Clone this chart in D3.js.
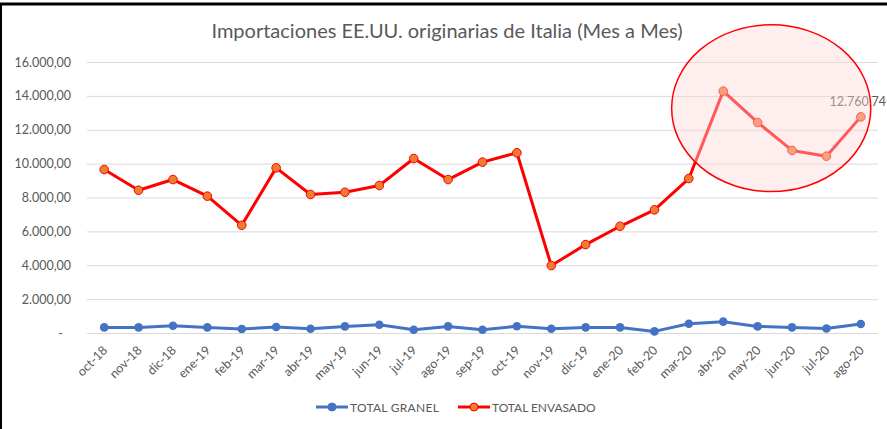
<!DOCTYPE html>
<html>
<head>
<meta charset="utf-8">
<title>Importaciones EE.UU. originarias de Italia</title>
<script src="https://d3js.org/d3.v7.min.js"></script>
<style>
  body { margin: 0; background: #fff; }
  text { font-family: Lato, "Open Sans", sans-serif; fill: #595959; }
</style>
</head>
<body>
<div id="chart"></div>
<script>
// months on the x axis
var months = ["oct-18","nov-18","dic-18","ene-19","feb-19","mar-19","abr-19","may-19","jun-19",
  "jul-19","ago-19","sep-19","oct-19","nov-19","dic-19","ene-20","feb-20","mar-20","abr-20",
  "may-20","jun-20","jul-20","ago-20"];

// TOTAL GRANEL
var granel = [330, 330, 430, 330, 240, 355, 255, 390, 490, 195, 390, 195, 400, 255,
  330, 330, 95, 550, 670, 390, 330, 270, 530];

// TOTAL ENVASADO
var envasado = [9650, 8430, 9060, 8080, 6360, 9750, 8180, 8310, 8710, 10300, 9060, 10090,
  10640, 3980, 5220, 6300, 7270, 9120, 14280, 12430, 10780, 10440, 12760.74];

var yTicks = [0, 2000, 4000, 6000, 8000, 10000, 12000, 14000, 16000];

var W = 887, H = 429;
var margin = {top: 62, right: 9, bottom: 96, left: 87};
var width = W - margin.left - margin.right,
    height = H - margin.top - margin.bottom;

var root = d3.select("#chart").append("svg")
  .attr("width", W).attr("height", H);

// black frame (top + left edges visible)
root.append("line").attr("x1", 0).attr("x2", W).attr("y1", 4).attr("y2", 4)
  .attr("stroke", "#000").attr("stroke-width", 3);
root.append("line").attr("x1", 1).attr("x2", 1).attr("y1", 3).attr("y2", H)
  .attr("stroke", "#000").attr("stroke-width", 2);

root.append("text")
  .attr("x", 447).attr("y", 38)
  .attr("text-anchor", "middle")
  .attr("font-size", "20px")
  .text("Importaciones EE.UU. originarias de Italia (Mes a Mes)");

var svg = root.append("g")
  .attr("transform", "translate(" + margin.left + "," + margin.top + ")");

var x = d3.scaleBand().domain(months).range([0, width]);
var y = d3.scaleLinear().domain([0, 16000]).range([height, 0]);

var fmt = d3.formatLocale({decimal: ",", thousands: ".", grouping: [3], currency: ["", ""]}).format(",.2f");

// gridlines
svg.selectAll(".grid").data(yTicks).enter().append("line")
  .attr("x1", 0).attr("x2", width)
  .attr("y1", function(d) { return y(d) + 0.5; })
  .attr("y2", function(d) { return y(d) + 0.5; })
  .attr("stroke", "#d9d9d9").attr("stroke-width", 1);

// y labels
var yAxis = svg.append("g")
  .call(d3.axisLeft(y).tickValues(yTicks).tickSize(0).tickPadding(16)
    .tickFormat(function(d) { return d === 0 ? "-" : fmt(d); }));
yAxis.select(".domain").remove();
yAxis.selectAll("text")
  .attr("font-size", "12.5px")
  .attr("font-family", "Lato, sans-serif")
  .attr("fill", "#595959")
  .attr("dx", function(d) { return d === 0 ? -8 : 0; });

// x labels
var xAxis = svg.append("g")
  .attr("transform", "translate(0," + height + ")")
  .call(d3.axisBottom(x).tickSize(0).tickPadding(0));
xAxis.select(".domain").remove();
xAxis.selectAll("text")
  .attr("font-size", "12.5px")
  .attr("font-family", "Lato, sans-serif")
  .attr("fill", "#595959")
  .attr("text-anchor", "end")
  .attr("dy", 0)
  .attr("transform", "translate(4,18) rotate(-45)");

function cx(d, i) { return x(months[i]) + x.bandwidth() / 2; }

var line = d3.line()
  .x(function(d, i) { return cx(d, i); })
  .y(function(d) { return y(d); });

// granel series
svg.append("path").datum(granel)
  .attr("d", line).attr("fill", "none")
  .attr("stroke", "#4472c4").attr("stroke-width", 3).attr("stroke-linejoin", "round");
svg.selectAll(".pg").data(granel).enter().append("circle")
  .attr("cx", cx).attr("cy", function(d) { return y(d); })
  .attr("r", 4.3).attr("fill", "#4472c4");

// envasado series
svg.append("path").datum(envasado)
  .attr("d", line).attr("fill", "none")
  .attr("stroke", "#ff0000").attr("stroke-width", 3).attr("stroke-linejoin", "round");
svg.selectAll(".pe").data(envasado).enter().append("circle")
  .attr("cx", cx).attr("cy", function(d) { return y(d); })
  .attr("r", 4.3).attr("fill", "#ed7d31").attr("stroke", "#ff0000").attr("stroke-width", 1);

// data label for the last point (kept inside the picture's right edge)
var last = envasado.length - 1;
svg.append("text")
  .attr("x", width + margin.right - 1)
  .attr("y", y(envasado[last]) - 11)
  .attr("text-anchor", "end")
  .attr("font-size", "12.5px")
  .text(fmt(envasado[last]));

// highlight ellipse over the last months
var eLeft = x("mar-20"), eRight = cx(0, last) + 10;
var eTop = y(18200), eBottom = y(8350);
svg.append("ellipse")
  .attr("cx", (eLeft + eRight) / 2).attr("cy", (eTop + eBottom) / 2)
  .attr("rx", (eRight - eLeft) / 2).attr("ry", (eBottom - eTop) / 2)
  .attr("fill", "rgba(255,215,215,0.42)")
  .attr("stroke", "#ff0000").attr("stroke-width", 1.5);

// legend
var legend = root.append("g").attr("transform", "translate(316,407)");
var items = [
  {name: "TOTAL GRANEL", stroke: "#4472c4", fill: "#4472c4", x: 0},
  {name: "TOTAL ENVASADO", stroke: "#ff0000", fill: "#ed7d31", x: 142}
];
var li = legend.selectAll("g").data(items).enter().append("g")
  .attr("transform", function(d) { return "translate(" + d.x + ",0)"; });
li.append("line").attr("x1", 0).attr("x2", 32).attr("y1", 0).attr("y2", 0)
  .attr("stroke", function(d) { return d.stroke; }).attr("stroke-width", 3);
li.append("circle").attr("cx", 16).attr("cy", 0).attr("r", 4)
  .attr("fill", function(d) { return d.fill; })
  .attr("stroke", function(d) { return d.stroke; }).attr("stroke-width", 1);
li.append("text").attr("x", 34).attr("y", 4.5)
  .attr("font-size", "12px")
  .attr("textLength", function(d) { return d.name.length * 7.4; })
  .text(function(d) { return d.name; });
</script>
</body>
</html>
